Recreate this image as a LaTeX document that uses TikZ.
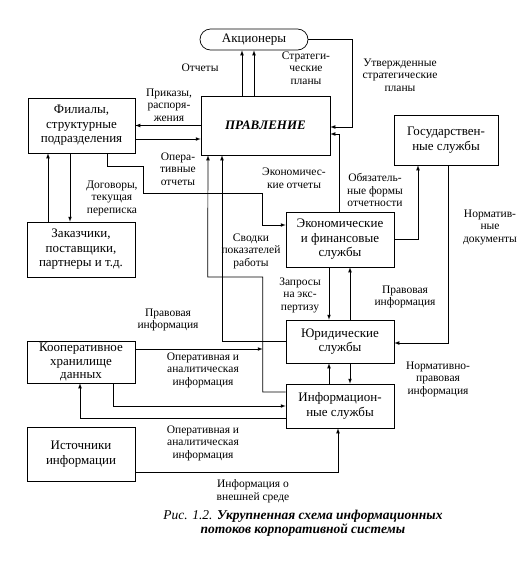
\documentclass[tikz,border=0pt]{standalone}
\usepackage{fontspec}
\setmainfont{Liberation Serif}
\usepackage{tikz}
\usetikzlibrary{arrows,positioning,calc}

\begin{document}
\begin{tikzpicture}[x=1pt,y=-1pt,>=latex,line width=0.7pt,
  box/.style={draw,align=center,inner xsep=2,inner ysep=0.5,font=\fontsize{13}{14.5}\selectfont,minimum width=108},
  lbl/.style={align=center,inner sep=1,font=\fontsize{11.5}{12.5}\selectfont}]
\useasboundingbox (0,0) rectangle (531,566);
\node[box,rounded corners=10.5,minimum height=21] (akc) at (254,39.5) {Акционеры};
\node[box,minimum width=129,minimum height=59] (prav) at (265.5,125.5) {\bfseries\itshape ПРАВЛЕНИЕ};
\node[box,minimum width=107,minimum height=55] (fil) at (81.5,125.5) {Филиалы,\\структурные\\подразделения};
\node[box,minimum height=55] (zak) at (81,249.5) {Заказчики,\\поставщики,\\партнеры и т.д.};
\node[box,minimum width=104,minimum height=50] (gos) at (446,140) {Государствен-\\ные службы};
\node[box,minimum height=55] (ekon) at (340,239.5) {Экономические\\и финансовые\\службы};
\node[box,minimum height=43] (yur) at (340,341.5) {Юридические\\службы};
\node[box,minimum height=44] (inf) at (340,406) {Информацион-\\ные службы};
\node[box,minimum height=42,font=\fontsize{13}{13.2}\selectfont] (koop) at (81,362) {Кооперативное\\хранилище\\данных};
\node[box,minimum height=54] (ist) at (81,454) {Источники\\информации};

\draw[->] ([xshift=-23.5]prav.north) -- ([xshift=-12]akc.south);
\draw[->] ([xshift=-11.5]prav.north) -- (akc.south);
\draw[->] (akc.east) -| ++(44,87.5) -- ([yshift=-1.5]prav.east);
\draw[->] ([xshift=-1]ekon.north) |- ([yshift=-8.5]prav.east);
\draw[->] ([yshift=-13.5]fil.east) -- ([yshift=-13.5]prav.west);
\draw[->] (prav.west) -- (fil.east);
\draw[->] ([xshift=25.5]fil.south) -- ++(0,13) -| ++(36,27) -- ++(119,0) |- ([yshift=14.5]ekon.west);
\draw[->] ([xshift=-33]zak.north) -- ([xshift=-33.5]fil.south);
\draw[->] ([xshift=-11.5]fil.south) -- ([xshift=-11]zak.north);
\draw[->] (yur.west) -| ([xshift=-43.5]prav.south);
\draw[->] ([yshift=14]inf.west) -- ++(-23,0) coordinate (svod) |- ++(-55,-115) -- ([xshift=-57.5]prav.south);
\draw[->] ([yshift=13]koop.east) coordinate (k1) -- (k1 -| svod);
\draw[->] ([xshift=32]koop.south) |- (inf.west);
\draw[->] ([yshift=-12]inf.west) -| ([xshift=-1]koop.south);
\draw[->] ([yshift=-18]ist.east) -| ([xshift=-2]inf.south);
\draw[->] ([xshift=-11]ekon.south) -- ([xshift=-11]yur.north);
\draw[->] ([xshift=10]yur.north) -- ([xshift=10]ekon.south);
\draw[->] ([xshift=-11]inf.north) -- ([xshift=-11]yur.south);
\draw[->] ([xshift=10]yur.south) -- ([xshift=10]inf.north);
\draw[->] (ekon.east) -| ([xshift=-28]gos.south);
\draw[->] ([xshift=2]gos.south) |- ([yshift=-1.5]yur.east);

\node[lbl] (lotch) at (200,68) {Отчеты};
\node[lbl] (lstrat) at (306,68) {Стратеги-\\ческие\\планы};
\node[lbl] (lutv) at (400,75) {Утвержденные\\стратегические\\планы};
\node[lbl] (lprik) at (169,105) {Приказы,\\распоря-\\жения};
\node[lbl] (loper) at (178,169) {Опера-\\тивные\\отчеты};
\node[lbl] (ldog) at (112,198) {Договоры,\\текущая\\переписка};
\node[lbl] (leko) at (294,178) {Экономичес-\\кие отчеты};
\node[lbl] (lobyaz) at (375,190) {Обязатель-\\ные формы\\отчетности};
\node[lbl] (lsvod) at (251,251) {Сводки\\показателей\\работы};
\node[lbl] (lprav) at (168,320) {Правовая\\информация};
\node[lbl] (lzapr) at (300,295) {Запросы\\на экс-\\пертизу};
\node[lbl] (lprav2) at (405,297) {Правовая\\информация};
\node[lbl] (lnorm) at (490,227) {Норматив-\\ные\\документы};
\node[lbl] (lnormpr) at (438,379) {Нормативно-\\правовая\\информация};
\node[lbl] (loper1) at (203,370) {Оперативная и\\аналитическая\\информация};
\node[lbl] (loper2) at (203,443) {Оперативная и\\аналитическая\\информация};
\node[lbl] (lvnesh) at (253,491) {Информация о\\внешней среде};
\node[lbl,font=\fontsize{13.5}{12.5}\selectfont] (cap) at (303,523) {\itshape Рис. 1.2. \bfseries Укрупненная схема информационных\\\itshape\bfseries потоков корпоративной системы};
\end{tikzpicture}
\end{document}
